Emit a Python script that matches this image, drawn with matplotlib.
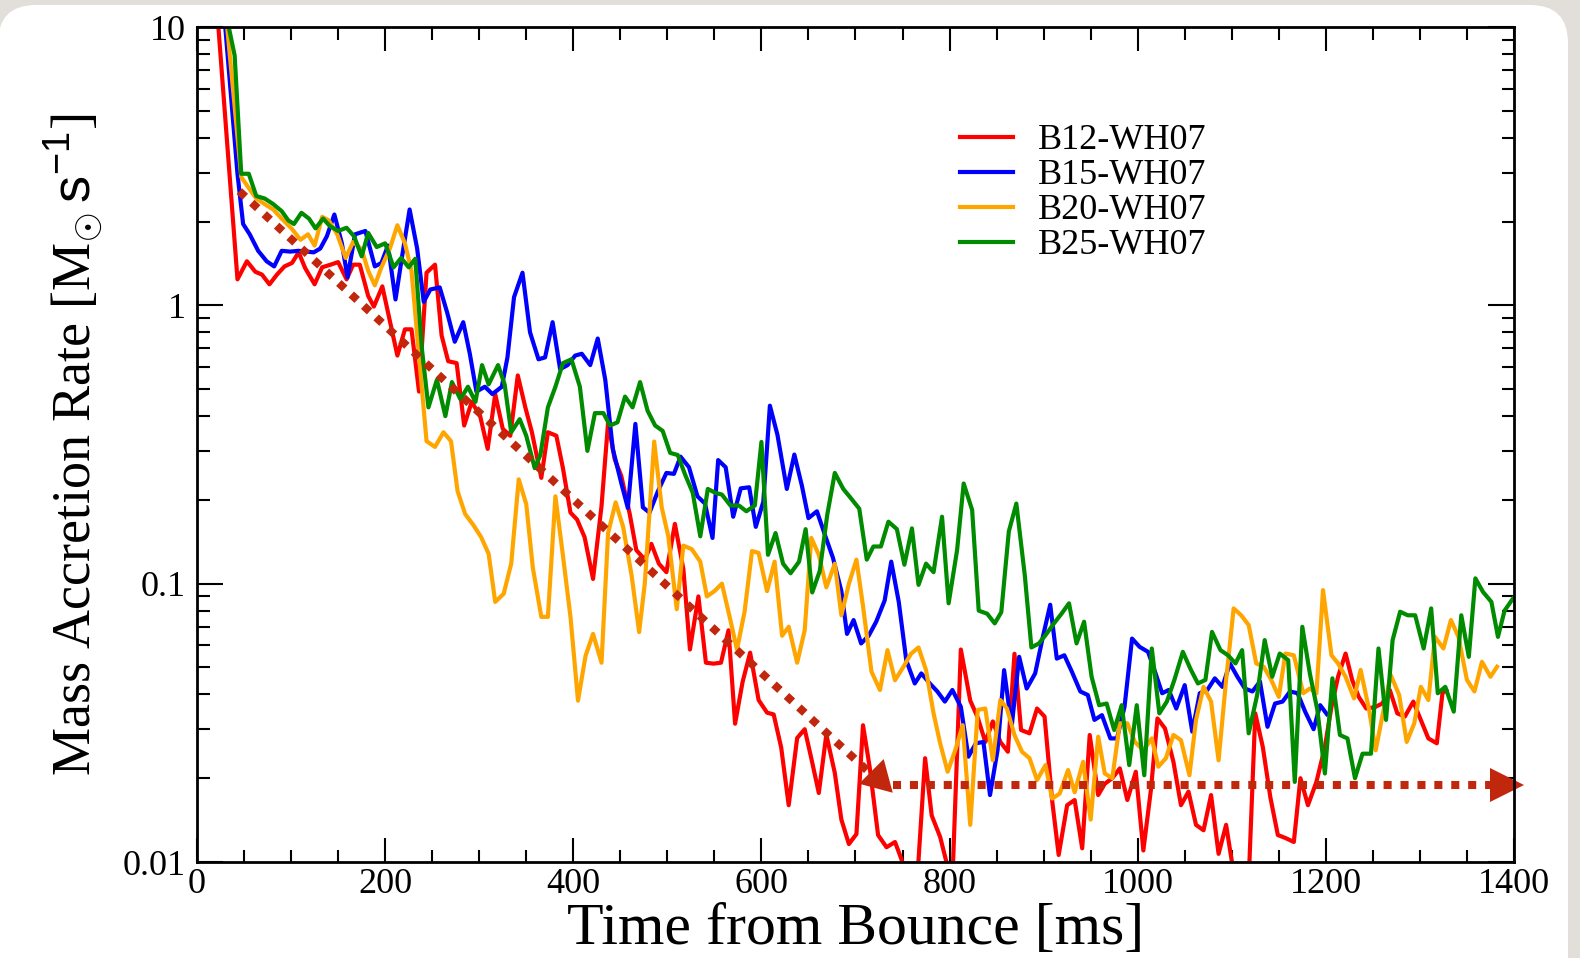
import matplotlib
matplotlib.use("Agg")
import matplotlib.pyplot as plt
from matplotlib.patches import FancyBboxPatch
from matplotlib.ticker import MultipleLocator, LogLocator, NullFormatter
from matplotlib.transforms import IdentityTransform

# ---- data (time from bounce [ms], accretion rate [Msun/s]) ----
b12_t = [20, 43, 53, 62, 69, 77, 85, 93, 101, 108, 115, 125, 133, 142, 150, 159, 166, 173, 182, 188,
         197, 205, 213, 221, 228, 236, 244, 253, 260, 267, 276, 284, 292, 301, 309, 317, 325, 333, 341, 349,
         356, 366, 373, 382, 389, 397, 404, 412, 421, 430, 437, 444, 451, 460, 467, 476, 483, 491, 499, 508,
         517, 524, 533, 541, 549, 557, 565, 572, 580, 588, 597, 606, 613, 621, 629, 638, 646, 653, 661, 669,
         678, 685, 693, 701, 708, 715, 724, 733, 742, 749, 757, 766, 774, 781, 790, 797, 803, 812, 822, 830,
         838, 846, 854, 862, 869, 876, 885, 893, 901, 909, 916, 925, 933, 941, 949, 958, 965, 973, 981, 989,
         998, 1006, 1014, 1021, 1029, 1038, 1046, 1054, 1062, 1070, 1078, 1086, 1094, 1101, 1109, 1117, 1125, 1133, 1141, 1149,
         1157, 1166, 1173, 1181, 1190, 1199, 1206, 1213, 1221, 1228, 1235, 1243, 1252, 1260, 1268, 1276, 1284, 1293, 1301, 1309,
         1318, 1324, 1328]
b12_rate = [13.2, 1.24, 1.44, 1.32, 1.29, 1.19, 1.29, 1.38, 1.42, 1.55, 1.36, 1.19, 1.37, 1.40, 1.43, 1.24, 1.40, 1.40, 1.08, 0.99,
            1.17, 0.88, 0.66, 0.82, 0.82, 0.49, 1.31, 1.40, 0.78, 0.63, 0.62, 0.37, 0.45, 0.40, 0.305, 0.48, 0.36, 0.34, 0.56, 0.43,
            0.35, 0.24, 0.35, 0.34, 0.26, 0.18, 0.17, 0.147, 0.104, 0.19, 0.38, 0.28, 0.244, 0.178, 0.132, 0.122, 0.139, 0.118, 0.110, 0.164,
            0.113, 0.058, 0.090, 0.052, 0.0516, 0.052, 0.068, 0.0314, 0.0444, 0.0565, 0.0382, 0.0344, 0.0339, 0.0258, 0.0160, 0.0279, 0.030, 0.0236, 0.0177, 0.0287,
            0.0209, 0.0142, 0.0116, 0.0126, 0.031, 0.022, 0.0125, 0.0113, 0.0118, 0.0102, 0.008, 0.009, 0.0236, 0.0147, 0.0123, 0.0099, 0.0085, 0.058, 0.038, 0.033,
            0.027, 0.032, 0.027, 0.0249, 0.056, 0.0298, 0.029, 0.0356, 0.0333, 0.0167, 0.0106, 0.016, 0.0167, 0.0112, 0.0286, 0.0174, 0.0191, 0.020, 0.0217, 0.0167,
            0.0211, 0.011, 0.0181, 0.0328, 0.0302, 0.0229, 0.016, 0.0179, 0.0136, 0.013, 0.0174, 0.0107, 0.0136, 0.0096, 0.007, 0.007, 0.0342, 0.0259, 0.0171, 0.0125,
            0.0122, 0.0118, 0.020, 0.016, 0.0194, 0.0259, 0.0361, 0.0463, 0.0561, 0.0451, 0.0392, 0.0356, 0.036, 0.0371, 0.0415, 0.0342, 0.0333, 0.0377, 0.0324, 0.0278,
            0.0267, 0.0404, 0.0415]

b15_t = [25, 43, 49, 56, 65, 74, 82, 90, 99, 108, 117, 124, 131, 138, 146, 154, 160, 168, 179, 189,
         196, 203, 211, 218, 226, 234, 241, 248, 258, 266, 274, 283, 290, 297, 306, 314, 324, 330, 337, 346,
         354, 363, 370, 378, 386, 394, 402, 409, 418, 426, 434, 442, 451, 458, 466, 474, 481, 490, 499, 507,
         514, 523, 532, 540, 548, 554, 562, 570, 578, 587, 594, 602, 609, 617, 627, 635, 643, 650, 659, 668,
         676, 685, 691, 698, 706, 714, 722, 731, 738, 746, 754, 763, 770, 779, 787, 795, 803, 812, 820, 828,
         836, 843, 851, 858, 866, 874, 882, 891, 899, 907, 914, 922, 930, 939, 947, 954, 962, 971, 978, 986,
         994, 1002, 1011, 1019, 1026, 1033, 1041, 1050, 1058, 1066, 1074, 1082, 1090, 1098, 1106, 1114, 1122, 1130, 1138, 1146,
         1154, 1162, 1170, 1178, 1187, 1194, 1201]
b15_rate = [16.0, 2.97, 1.96, 1.80, 1.57, 1.44, 1.38, 1.57, 1.56, 1.57, 1.56, 1.55, 1.60, 1.77, 2.12, 1.67, 1.26, 1.80, 1.85, 1.38,
            1.42, 1.64, 1.05, 1.50, 2.21, 1.60, 1.03, 1.14, 1.16, 0.94, 0.74, 0.87, 0.67, 0.49, 0.51, 0.48, 0.51, 0.65, 1.07, 1.31,
            0.80, 0.64, 0.65, 0.87, 0.59, 0.61, 0.66, 0.67, 0.61, 0.76, 0.54, 0.305, 0.23, 0.187, 0.375, 0.188, 0.18, 0.215, 0.25, 0.248,
            0.286, 0.262, 0.206, 0.194, 0.146, 0.278, 0.262, 0.174, 0.22, 0.222, 0.16, 0.197, 0.436, 0.343, 0.219, 0.291, 0.225, 0.172, 0.182, 0.148,
            0.124, 0.094, 0.066, 0.074, 0.061, 0.065, 0.073, 0.087, 0.12, 0.086, 0.053, 0.0438, 0.0476, 0.0438, 0.041, 0.0377, 0.0415, 0.0361, 0.0239, 0.0267,
            0.027, 0.0174, 0.0252, 0.0489, 0.0306, 0.0546, 0.042, 0.0476, 0.064, 0.084, 0.0538, 0.0553, 0.0483, 0.041, 0.0398, 0.0324, 0.0337, 0.0278, 0.0278, 0.0361,
            0.0635, 0.0593, 0.0569, 0.0476, 0.0404, 0.0415, 0.0356, 0.0432, 0.0294, 0.0404, 0.0415, 0.0457, 0.0426, 0.0517, 0.0463, 0.042, 0.041, 0.0445, 0.0306, 0.0371,
            0.0377, 0.041, 0.0404, 0.0347, 0.030, 0.0366, 0.034]

b20_t = [28, 47, 55, 63, 72, 81, 90, 101, 110, 118, 125, 133, 140, 149, 158, 166, 175, 182, 189, 196,
         205, 213, 221, 228, 244, 253, 262, 270, 277, 285, 294, 302, 310, 317, 326, 334, 342, 350, 357, 366,
         373, 381, 389, 397, 405, 413, 421, 430, 437, 445, 453, 462, 470, 476, 486, 494, 501, 510, 517, 526,
         535, 542, 550, 558, 567, 574, 582, 590, 597, 606, 614, 622, 629, 638, 646, 653, 661, 669, 678, 685,
         693, 701, 708, 717, 726, 734, 742, 751, 759, 767, 775, 783, 790, 798, 806, 814, 822, 830, 838, 846,
         854, 861, 869, 877, 885, 893, 902, 909, 917, 926, 933, 942, 950, 958, 965, 973, 981, 989, 997, 1006,
         1015, 1022, 1030, 1038, 1046, 1055, 1062, 1070, 1078, 1086, 1094, 1102, 1110, 1118, 1126, 1134, 1142, 1150, 1157, 1166,
         1176, 1183, 1190, 1197, 1206, 1213, 1221, 1230, 1237, 1246, 1253, 1260, 1269, 1278, 1286, 1294, 1301, 1309, 1316, 1325,
         1333, 1341, 1350, 1358, 1366, 1375, 1382]
b20_rate = [14.0, 2.89, 2.64, 2.42, 2.31, 2.21, 2.05, 1.88, 1.72, 1.80, 1.64, 2.08, 2.02, 1.80, 1.48, 1.69, 1.59, 1.33, 1.18, 1.37,
            1.60, 1.94, 1.67, 1.33, 0.325, 0.31, 0.35, 0.325, 0.215, 0.178, 0.162, 0.147, 0.128, 0.086, 0.092, 0.118, 0.237, 0.193, 0.114, 0.076,
            0.076, 0.206, 0.126, 0.076, 0.038, 0.055, 0.066, 0.052, 0.152, 0.196, 0.160, 0.107, 0.067, 0.10, 0.324, 0.188, 0.148, 0.081, 0.137, 0.133,
            0.12, 0.090, 0.094, 0.10, 0.074, 0.058, 0.079, 0.131, 0.129, 0.094, 0.12, 0.065, 0.07, 0.052, 0.068, 0.146, 0.127, 0.097, 0.118, 0.077,
            0.10, 0.122, 0.083, 0.0483, 0.0415, 0.0577, 0.045, 0.0503, 0.056, 0.059, 0.0489, 0.0342, 0.0267, 0.0211, 0.0252, 0.031, 0.0136, 0.0352, 0.0356, 0.0232,
            0.0382, 0.0356, 0.0286, 0.0249, 0.0236, 0.0197, 0.0223, 0.0169, 0.0176, 0.0214, 0.0178, 0.0229, 0.0142, 0.0282, 0.0208, 0.020, 0.0315, 0.0315, 0.027, 0.0252,
            0.0278, 0.022, 0.0236, 0.0286, 0.0274, 0.0205, 0.0324, 0.0426, 0.0377, 0.0232, 0.0451, 0.0815, 0.077, 0.071, 0.0517, 0.0503, 0.0451, 0.0392, 0.0561, 0.0553,
            0.0404, 0.042, 0.0404, 0.0948, 0.0553, 0.0517, 0.0463, 0.0387, 0.049, 0.0352, 0.0252, 0.0333, 0.047, 0.0398, 0.027, 0.0315, 0.0426, 0.0382, 0.0644, 0.0585,
            0.074, 0.0644, 0.0451, 0.041, 0.0524, 0.0463, 0.0503]

b25_t = [30, 40, 47, 55, 63, 72, 81, 90, 97, 103, 111, 119, 126, 134, 141, 150, 159, 167, 175, 182,
         191, 200, 209, 217, 225, 232, 239, 246, 255, 264, 271, 280, 288, 296, 303, 310, 320, 327, 334, 343,
         350, 359, 365, 373, 381, 389, 398, 407, 415, 423, 432, 439, 447, 455, 463, 471, 479, 487, 495, 503,
         511, 519, 527, 535, 543, 551, 558, 567, 576, 584, 593, 600, 607, 615, 623, 631, 640, 647, 654, 662,
         670, 678, 687, 695, 704, 712, 719, 727, 735, 744, 752, 760, 767, 775, 783, 792, 799, 808, 815, 824,
         831, 840, 848, 855, 863, 871, 880, 887, 895, 903, 911, 919, 927, 935, 943, 951, 959, 967, 975, 983,
         991, 999, 1007, 1015, 1023, 1031, 1039, 1048, 1056, 1064, 1072, 1079, 1088, 1096, 1104, 1111, 1118, 1127, 1135, 1143,
         1151, 1160, 1167, 1175, 1183, 1191, 1199, 1207, 1215, 1223, 1231, 1239, 1248, 1256, 1264, 1271, 1279, 1287, 1295, 1304,
         1312, 1319, 1327, 1336, 1344, 1352, 1359, 1367, 1376, 1383, 1390, 1399]
b25_rate = [11.5, 7.9, 2.97, 2.97, 2.47, 2.42, 2.31, 2.18, 2.02, 1.96, 2.15, 2.05, 1.89, 2.05, 1.93, 1.85, 1.90, 1.77, 1.50, 1.82,
            1.62, 1.67, 1.37, 1.48, 1.37, 1.47, 0.70, 0.43, 0.54, 0.40, 0.53, 0.46, 0.51, 0.45, 0.61, 0.52, 0.61, 0.52, 0.35, 0.39,
            0.34, 0.26, 0.29, 0.43, 0.51, 0.62, 0.64, 0.51, 0.30, 0.41, 0.41, 0.37, 0.38, 0.47, 0.43, 0.53, 0.418, 0.37, 0.354, 0.295,
            0.29, 0.246, 0.212, 0.148, 0.219, 0.212, 0.209, 0.191, 0.191, 0.182, 0.191, 0.323, 0.127, 0.152, 0.118, 0.109, 0.12, 0.157, 0.093, 0.111,
            0.177, 0.25, 0.219, 0.203, 0.186, 0.122, 0.136, 0.136, 0.167, 0.157, 0.117, 0.158, 0.099, 0.118, 0.110, 0.174, 0.085, 0.132, 0.229, 0.184,
            0.080, 0.078, 0.072, 0.079, 0.154, 0.194, 0.107, 0.059, 0.061, 0.066, 0.072, 0.078, 0.085, 0.061, 0.073, 0.0463, 0.0366, 0.0371, 0.0298, 0.0366,
            0.0223, 0.0366, 0.0205, 0.0585, 0.0342, 0.0377, 0.0451, 0.0569, 0.0495, 0.0438, 0.0451, 0.0671, 0.0577, 0.0553, 0.0517, 0.0577, 0.029, 0.0398, 0.0627, 0.0463,
            0.0561, 0.0531, 0.0194, 0.070, 0.0476, 0.0352, 0.0208, 0.0457, 0.0286, 0.0278, 0.020, 0.0245, 0.0245, 0.0585, 0.0324, 0.0627, 0.0793, 0.077, 0.077, 0.0585,
            0.0815, 0.0404, 0.0426, 0.0347, 0.077, 0.0546, 0.1045, 0.0935, 0.086, 0.0644, 0.080, 0.0885]

series = [
    ("B12-WH07", b12_t, b12_rate, "#ff0000"),
    ("B15-WH07", b15_t, b15_rate, "#0000ff"),
    ("B20-WH07", b20_t, b20_rate, "#ffa500"),
    ("B25-WH07", b25_t, b25_rate, "#008b00"),
]

# exponential-decay guide and the late-time floor (dotted arrows)
decay_t = [45, 712]
decay_rate = [2.57, 0.0214]
floor_t = [740, 1388]
floor_rate = [0.0189, 0.0189]
left_head = (723.6, 0.0201)
right_head = (1392.6, 0.0189)
guide_color = "#c1270c"

ytick_vals = [0.01, 0.1, 1, 10]
ytick_labels = ["0.01", "0.1", "1", "10"]

plt.rcParams["font.family"] = ["Liberation Serif", "DejaVu Serif"]
plt.rcParams["mathtext.fontset"] = "custom"
plt.rcParams["mathtext.rm"] = "Liberation Serif"
plt.rcParams["mathtext.sf"] = "Liberation Sans"

fig = plt.figure(figsize=(15.8, 9.58), dpi=100, facecolor="#e2dfda")
# white rounded panel behind the chart (pixel coordinates)
panel = FancyBboxPatch((-2, -40), 1570, 993, boxstyle="round,pad=0,rounding_size=38",
                       transform=IdentityTransform(), facecolor="white", edgecolor="none", zorder=0)
fig.add_artist(panel)

ax = fig.add_axes([0.1247, 0.1002, 0.8335, 0.8716])
ax.set_facecolor("white")

for name, t, r, c in series:
    ax.plot(t, r, color=c, lw=3.0, label=name)

ax.plot(decay_t, decay_rate, color=guide_color, lw=5.8, ls=(0, (1, 1.1)), dash_capstyle="butt")
ax.plot(floor_t, floor_rate, color=guide_color, lw=5.8, ls=(0, (1, 1.1)), dash_capstyle="butt", clip_on=False)
ax.plot([left_head[0]], [left_head[1]], marker=(3, 0, -15), ms=29, mew=0, color=guide_color, ls="none", clip_on=False)
ax.plot([right_head[0]], [right_head[1]], marker=">", ms=24.5, mew=0, color=guide_color, ls="none", clip_on=False)

ax.set_yscale("log")
ax.set_xlim(0, 1400)
ax.set_ylim(0.01, 10)

ax.xaxis.set_major_locator(MultipleLocator(200))
ax.xaxis.set_minor_locator(MultipleLocator(50))
ax.set_yticks(ytick_vals)
ax.set_yticklabels(ytick_labels)
ax.yaxis.set_minor_locator(LogLocator(base=10, subs=range(2, 10)))
ax.yaxis.set_minor_formatter(NullFormatter())

ax.tick_params(which="both", direction="in", top=True, right=True, width=1.5, labelsize=26)
ax.tick_params(axis="x", which="major", length=17, pad=4)
ax.tick_params(axis="y", which="major", length=19, pad=8)
ax.tick_params(which="minor", length=9)
for s in ax.spines.values():
    s.set_linewidth(2)

ax.set_xlabel("Time from Bounce [ms]", fontsize=43, va="center")
ax.xaxis.set_label_coords(0.5, -0.082)
ax.set_ylabel(r"Mass Accretion Rate [M$_{\odot}\,\mathsf{s}^{\mathsf{-1}}$]", fontsize=39, va="center")
ax.yaxis.set_label_coords(-0.094, 0.5)

ax.legend(loc="upper left", bbox_to_anchor=(0.579, 0.884), frameon=False, fontsize=26,
          handlelength=1.47, handletextpad=0.7, labelspacing=0.05, borderpad=0, borderaxespad=0)

fig.savefig("out.png", dpi=100, facecolor=fig.get_facecolor())
